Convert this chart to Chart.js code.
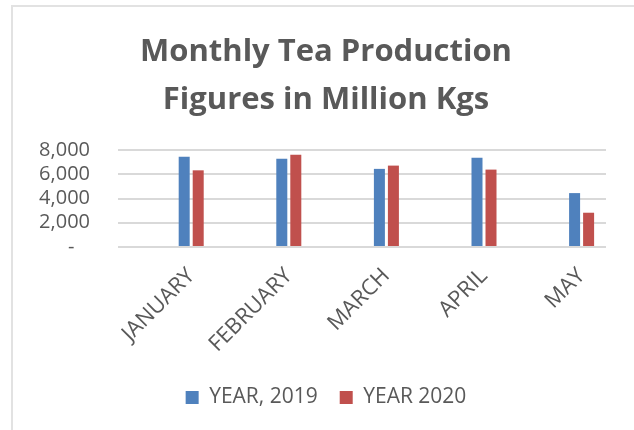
<!DOCTYPE html>
<html>
<head>
<meta charset="utf-8">
<script src="https://cdn.jsdelivr.net/npm/chart.js@4.4.0/dist/chart.umd.min.js"></script>
<style>
  html, body { margin: 0; padding: 0; background: #fff; overflow: hidden; width: 634px; height: 430px; }
  #frame { position: absolute; left: 11px; top: 5px; width: 700px; height: 500px; border: 2px solid #e2e2e2; }
  #chart { position: absolute; left: 0; top: 0; }
</style>
</head>
<body>
<div id="frame"></div>
<canvas id="chart" width="652" height="430"></canvas>
<script>
const months = ['JANUARY', 'FEBRUARY', 'MARCH', 'APRIL', 'MAY'];
const year2019 = [7450, 7280, 6450, 7370, 4450];
const year2020 = [6330, 7620, 6720, 6390, 2830];
const yTicks = [0, 2000, 4000, 6000, 8000];

const textColor = '#595959';
const fontFamily = '"Open Sans", Lato, sans-serif';

const toPoints = values => values.map((v, i) => ({ x: i, y: v }));

new Chart(document.getElementById('chart').getContext('2d'), {
    type: 'bar',
    data: {
        datasets: [
            {
                label: 'YEAR, 2019',
                data: toPoints(year2019),
                backgroundColor: '#4F81BD',
                categoryPercentage: 0.287,
                barPercentage: 0.786
            },
            {
                label: 'YEAR 2020',
                data: toPoints(year2020),
                backgroundColor: '#C0504D',
                categoryPercentage: 0.287,
                barPercentage: 0.786
            }
        ]
    },
    options: {
        responsive: false,
        animation: false,
        layout: { padding: { left: 0, right: 0, top: 0, bottom: 12 } },
        plugins: {
            title: {
                display: true,
                text: ['Monthly Tea Production', 'Figures in Million Kgs'],
                color: textColor,
                font: { family: fontFamily, size: 31, weight: 'bold', lineHeight: 1.55 },
                padding: { top: 28, bottom: 26 }
            },
            legend: {
                position: 'bottom',
                labels: {
                    color: textColor,
                    font: { family: fontFamily, size: 21 },
                    boxWidth: 13,
                    boxHeight: 13,
                    padding: 22
                }
            },
            tooltip: { enabled: false }
        },
        scales: {
            x: {
                type: 'linear',
                min: -0.75,
                max: 4.25,
                offset: false,
                grid: { display: false },
                border: { display: false },
                afterBuildTicks: scale => {
                    scale.ticks = months.map((m, i) => ({ value: i }));
                },
                afterFit: scale => { scale.height = 118; },
                ticks: {
                    autoSkip: false,
                    minRotation: 45,
                    maxRotation: 45,
                    padding: 8,
                    color: textColor,
                    font: { family: fontFamily, size: 22 },
                    callback: value => months[value]
                }
            },
            y: {
                min: 0,
                max: 8000,
                afterBuildTicks: scale => {
                    scale.ticks = yTicks.map(v => ({ value: v }));
                },
                afterFit: scale => { scale.width = 118; },
                grid: { color: '#d9d9d9', lineWidth: 2, drawTicks: false },
                border: { display: false },
                ticks: {
                    autoSkip: false,
                    padding: 28,
                    color: textColor,
                    font: { family: fontFamily, size: 20 },
                    callback: value => value === 0 ? '-   ' : value.toLocaleString('en-US')
                }
            },
            // empty right-hand margin so the title and legend centre like the original
            spacer: {
                type: 'linear',
                position: 'right',
                grid: { display: false },
                border: { display: false },
                ticks: { display: false },
                afterFit: scale => { scale.width = 46; }
            }
        }
    }
});
</script>
</body>
</html>
